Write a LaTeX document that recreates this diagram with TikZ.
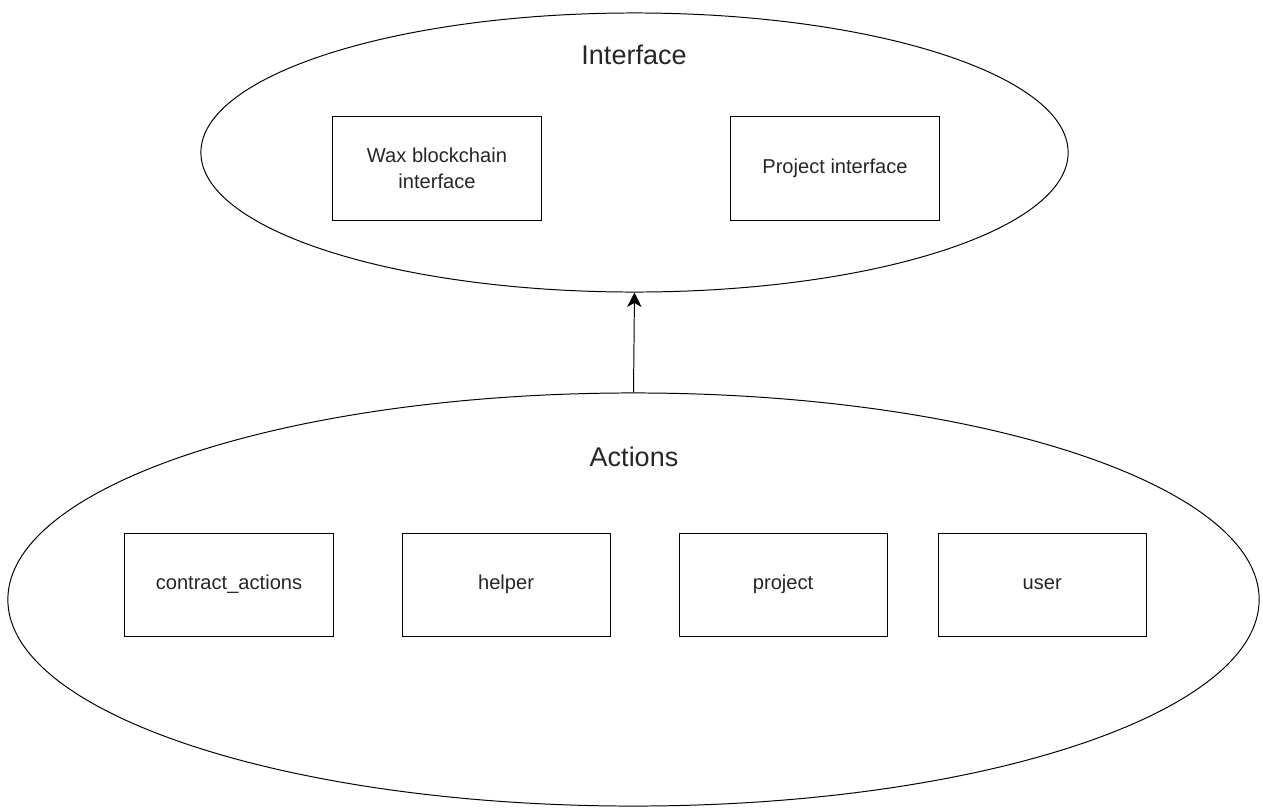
\documentclass[tikz,border=0pt]{standalone}
\usepackage{fontspec}
\setmainfont{Liberation Sans}
\usepackage{tikz}
\usetikzlibrary{arrows.meta,positioning,shapes.geometric}

\begin{document}
\begin{tikzpicture}[
  x=0.025cm, y=-0.025cm,
  group/.style={draw, ellipse, line width=0.7pt, inner sep=0pt},
  module/.style={draw, line width=0.7pt, align=center, minimum width=5.2cm, minimum height=2.575cm, text=black!85, font=\fontsize{14.3}{18.5}\selectfont},
  title/.style={text=black!85, font=\fontsize{19.2}{23}\selectfont},
  edge/.style={-{Stealth[length=3.6mm,width=3.6mm,inset=1mm]}, line width=0.7pt}
]
\useasboundingbox (0,0) rectangle (1263,810);

\node[group, minimum width=21.675cm, minimum height=6.975cm] (iface) at (634.5,152.5) {};
\node[title] (ifacetitle) at (634,55) {Interface};
\node[module] (wax) at (437,168.5) {Wax blockchain\\interface};
\node[module] (proj) at (835,168.5) {Project interface};

\node[group, minimum width=31.275cm, minimum height=10.325cm] (acts) at (633.5,599.5) {};
\node[title] (actstitle) at (634,457) {Actions};
\node[module] (contract) at (229,584.5) {contract\_actions};
\node[module, right=1.7cm of contract] (helper) {helper};
\node[module, right=1.7cm of helper] (project) {project};
\node[module, right=1.25cm of project] (user) {user};

\draw[edge] (acts.north) -- (iface.south);
\end{tikzpicture}
\end{document}
